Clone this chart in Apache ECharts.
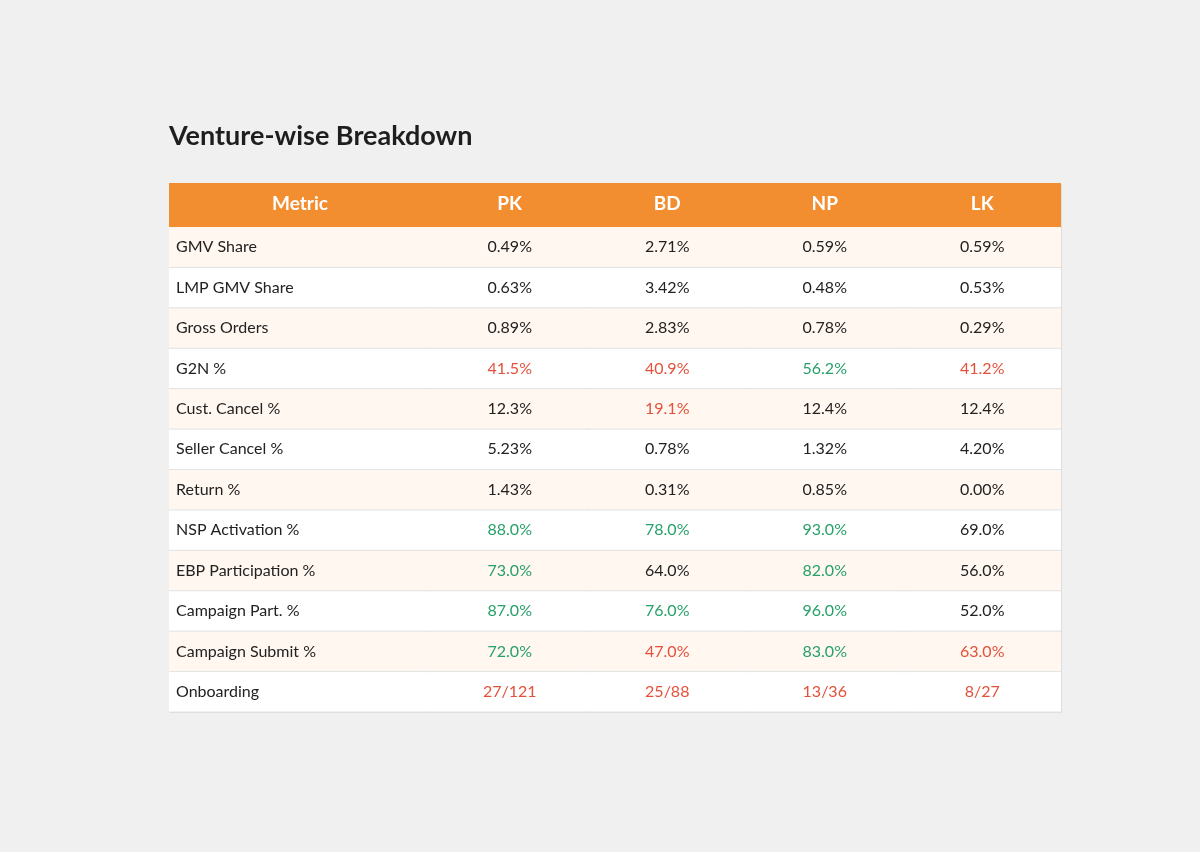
<!DOCTYPE html>
<html lang="en">
<head>
    <meta charset="UTF-8">
    <title>Venture-wise Breakdown</title>
    <script src="https://cdn.jsdelivr.net/npm/echarts@6/dist/echarts.min.js"></script>
    <style>
        html, body { margin: 0; padding: 0; background: #f0f0f0; }
        #main { width: 1200px; height: 852px; }
    </style>
</head>
<body>
    <div id="main"></div>
    <script>
        // table content
        var metrics = ['GMV Share', 'LMP GMV Share', 'Gross Orders', 'G2N %', 'Cust. Cancel %',
            'Seller Cancel %', 'Return %', 'NSP Activation %', 'EBP Participation %',
            'Campaign Part. %', 'Campaign Submit %', 'Onboarding'];
        var ventures = ['PK', 'BD', 'NP', 'LK'];
        var pkValues = ['0.49%', '0.63%', '0.89%', '41.5%', '12.3%', '5.23%', '1.43%', '88.0%', '73.0%', '87.0%', '72.0%', '27/121'];
        var bdValues = ['2.71%', '3.42%', '2.83%', '40.9%', '19.1%', '0.78%', '0.31%', '78.0%', '64.0%', '76.0%', '47.0%', '25/88'];
        var npValues = ['0.59%', '0.48%', '0.78%', '56.2%', '12.4%', '1.32%', '0.85%', '93.0%', '82.0%', '96.0%', '83.0%', '13/36'];
        var lkValues = ['0.59%', '0.53%', '0.29%', '41.2%', '12.4%', '4.20%', '0.00%', '69.0%', '56.0%', '52.0%', '63.0%', '8/27'];
        // g = good (green), b = bad (red), n = neutral
        var pkStatus = ['n', 'n', 'n', 'b', 'n', 'n', 'n', 'g', 'g', 'g', 'g', 'b'];
        var bdStatus = ['n', 'n', 'n', 'b', 'b', 'n', 'n', 'g', 'n', 'g', 'b', 'b'];
        var npStatus = ['n', 'n', 'n', 'g', 'n', 'n', 'n', 'g', 'g', 'g', 'g', 'b'];
        var lkStatus = ['n', 'n', 'n', 'b', 'n', 'n', 'n', 'n', 'n', 'n', 'b', 'b'];

        var allValues = [pkValues, bdValues, npValues, lkValues];
        var allStatus = [pkStatus, bdStatus, npStatus, lkStatus];
        var statusColor = { g: '#27a06a', b: '#e4513b', n: '#222222' };
        var font = 'Lato, "Open Sans", sans-serif';

        var metricData = metrics.map(function (m, i) { return [0, i, m]; });
        var cellData = [];
        allValues.forEach(function (col, c) {
            col.forEach(function (v, r) {
                cellData.push([c, r, v, allStatus[c][r]]);
            });
        });

        function drawCell(params, api, isMetric) {
            var c = api.value(0), r = api.value(1);
            var p = api.coord([c, r]);
            var s = api.size([1, 1]);
            var x0 = p[0] - s[0] / 2, y0 = p[1] - s[1] / 2;
            var txt = isMetric ? metricData[params.dataIndex][2] : cellData[params.dataIndex][2];
            var st = isMetric ? 'n' : cellData[params.dataIndex][3];
            // last column stays inside the table edge, others overlap a bit to hide seams
            var lastCol = !isMetric && c === ventures.length - 1;
            var w = lastCol ? s[0] : s[0] + 1;
            return {
                type: 'group',
                children: [
                    {
                        type: 'rect',
                        shape: { x: Math.floor(x0), y: y0, width: Math.ceil(w), height: s[1] },
                        style: { fill: r % 2 === 0 ? '#fff7f0' : '#ffffff' }
                    },
                    {
                        type: 'line',
                        shape: { x1: Math.floor(x0), y1: y0 + s[1], x2: Math.floor(x0) + Math.ceil(w), y2: y0 + s[1] },
                        style: { stroke: '#e2e2e2', lineWidth: 1 },
                        z2: 1
                    },
                    {
                        type: 'text',
                        x: isMetric ? x0 + 7 : p[0],
                        y: p[1],
                        style: {
                            text: txt,
                            fill: statusColor[st],
                            font: '16px ' + font,
                            align: isMetric ? 'left' : 'center',
                            verticalAlign: 'middle'
                        },
                        z2: 2
                    }
                ]
            };
        }

        var headerLabel = {
            show: true,
            color: '#ffffff',
            fontFamily: font,
            fontWeight: 'bold',
            fontSize: 19,
            margin: 14
        };

        var myChart = echarts.init(document.getElementById('main'));
        var option = {
            backgroundColor: '#f0f0f0',
            animation: false,
            title: {
                text: 'Venture-wise Breakdown',
                left: 169,
                top: 123,
                padding: 0,
                textStyle: { fontFamily: font, fontWeight: 'bold', fontSize: 27, color: '#1e1e1e' }
            },
            graphic: [
                {
                    type: 'rect',
                    shape: { x: 170, y: 184, width: 892, height: 529 },
                    style: { fill: '#dddddd' },
                    z: -1
                },
                {
                    type: 'rect',
                    shape: { x: 169, y: 183, width: 892, height: 44 },
                    style: { fill: '#f28d30' },
                    z: -1
                }
            ],
            grid: [
                { left: 169, top: 227, width: 262, height: 485 },
                { left: 431, top: 227, width: 630, height: 485 }
            ],
            xAxis: [
                {
                    gridIndex: 0, type: 'category', position: 'top', data: ['Metric'],
                    axisLine: { show: false }, axisTick: { show: false }, axisLabel: headerLabel
                },
                {
                    gridIndex: 1, type: 'category', position: 'top', data: ventures,
                    axisLine: { show: false }, axisTick: { show: false }, axisLabel: headerLabel
                }
            ],
            yAxis: [
                {
                    gridIndex: 0, type: 'category', inverse: true, data: metrics,
                    axisLine: { show: false }, axisTick: { show: false }, axisLabel: { show: false }
                },
                {
                    gridIndex: 1, type: 'category', inverse: true, data: metrics,
                    axisLine: { show: false }, axisTick: { show: false }, axisLabel: { show: false }
                }
            ],
            series: [
                {
                    type: 'custom',
                    xAxisIndex: 0, yAxisIndex: 0,
                    data: metricData.map(function (d) { return [d[0], d[1]]; }),
                    renderItem: function (params, api) { return drawCell(params, api, true); }
                },
                {
                    type: 'custom',
                    xAxisIndex: 1, yAxisIndex: 1,
                    data: cellData.map(function (d) { return [d[0], d[1]]; }),
                    renderItem: function (params, api) { return drawCell(params, api, false); }
                }
            ]
        };
        myChart.setOption(option);
    </script>
</body>
</html>
